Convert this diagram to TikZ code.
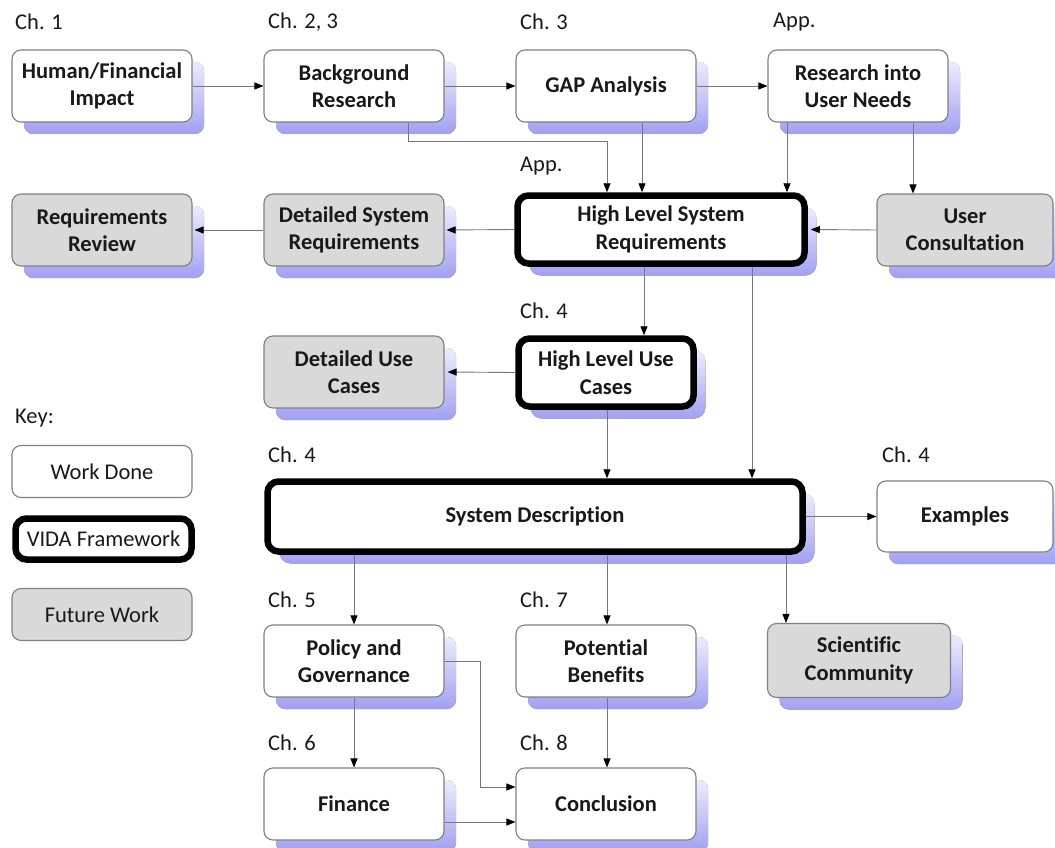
\documentclass[tikz,border=0pt]{standalone}
\usepackage{fontspec}
\setmainfont{Carlito}[Ligatures=NoCommon]
\usetikzlibrary{arrows.meta,shadows}
\definecolor{boxgray}{RGB}{128,128,128}
\definecolor{futgray}{RGB}{217,217,217}
\definecolor{lav}{RGB}{160,160,242}
\definecolor{txt}{RGB}{25,25,25}
\definecolor{conngray}{RGB}{120,120,120}
\newcommand{\fs}{\fontsize{22.5}{27.5}\selectfont}
\tikzset{
  box/.style={draw=boxgray, line width=1.1pt, rounded corners=9pt, fill=white,
    minimum width=180pt, minimum height=72pt, inner sep=2pt, align=center,
    font=\bfseries\fs, text=txt},
  shad/.style={drop shadow={shadow xshift=12pt, shadow yshift=-12pt, opacity=1,
    top color=lav!20, bottom color=lav, draw=none}},
  vida/.style={draw=black, line width=6.5pt, rounded corners=11pt},
  future/.style={fill=futgray},
  keybox/.style={draw=boxgray, line width=1.1pt, rounded corners=9pt, fill=white,
    minimum width=180pt, minimum height=52pt, inner sep=2pt, align=center,
    font=\fs, text=txt},
  lab/.style={anchor=west, font=\fs, text=txt, inner sep=0pt},
  conn/.style={draw=conngray, line width=0.9pt, -{Triangle[length=9pt,width=7pt,color=black]}},
}
\begin{document}
\begin{tikzpicture}[x=1pt,y=-1pt]
\useasboundingbox (0,0) rectangle (1055,848);
% labels
\node[lab] (l1) at (15,22) {Ch. 1};
\node[lab] (l2) at (268,22) {Ch. 2, 3};
\node[lab] (l3) at (520,22) {Ch. 3};
\node[lab] (l4) at (773,22) {App.};
\node[lab] (l5) at (520,166) {App.};
\node[lab] (l6) at (520,311) {Ch. 4};
\node[lab] (lkey) at (15,418) {Key:};
\node[lab] (l7) at (268,455) {Ch. 4};
\node[lab] (l8) at (882,455) {Ch. 4};
\node[lab] (l9) at (268,600) {Ch. 5};
\node[lab] (l10) at (520,600) {Ch. 7};
\node[lab] (l11) at (268,743) {Ch. 6};
\node[lab] (l12) at (520,743) {Ch. 8};
% row 1
\node[box,shad] (hfi) at (102,86) {Human/Financial\\Impact};
\node[box,shad] (bgr) at (354,86) {Background\\Research};
\node[box,shad] (gap) at (606,86) {GAP Analysis};
\node[box,shad] (run) at (858,86) {Research into\\User Needs};
% row 2
\node[box,shad,future] (rr) at (102,230) {Requirements\\Review};
\node[box,shad,future] (dsr) at (354,230) {Detailed System\\Requirements};
\node[box,shad,vida,minimum width=287pt,minimum height=68pt] (hlsr) at (661,229.5) {High Level System\\Requirements};
\node[box,shad,future,minimum width=176pt] (uc) at (965,230) {User\\Consultation};
% row 3
\node[box,shad,future] (duc) at (354,372) {Detailed Use\\Cases};
\node[box,shad,vida,minimum width=175pt,minimum height=68pt] (hluc) at (606,372.5) {High Level Use\\Cases};
% key
\node[keybox] (kwd) at (102,471.5) {Work Done};
\node[keybox,vida,minimum width=176pt,minimum height=41pt] (kvida) at (103.5,539) {VIDA Framework};
\node[keybox,future] (kfw) at (102,614.5) {Future Work};
% row 4
\node[box,shad,vida,minimum width=535pt,minimum height=70pt] (sd) at (535,516.5) {System Description};
\node[box,shad,minimum width=176pt,minimum height=71pt] (ex) at (965,516.5) {Examples};
% row 5
\node[box,shad] (pg) at (354,661) {Policy and\\Governance};
\node[box,shad] (pb) at (606,661) {Potential\\Benefits};
\node[box,shad,future,minimum width=183pt,minimum height=74pt] (sc) at (859,660.5) {Scientific\\Community};
% row 6
\node[box,shad] (fin) at (354,804) {Finance};
\node[box,shad] (con) at (606,804) {Conclusion};
% connectors
\draw[conn] (hfi.east) -- (bgr.west);
\draw[conn] (bgr.east) -- (gap.west);
\draw[conn] (gap.east) -- (run.west);
\draw[conn] (bgr.south -| 408,0) |- (607,141) -- (607,0 |- hlsr.north);
\draw[conn] (gap.south -| 642,0) -- (642,0 |- hlsr.north);
\draw[conn] (run.south -| 787,0) -- (787,0 |- hlsr.north);
\draw[conn] (run.south -| 913,0) -- (913,0 |- uc.north);
\draw[conn] (uc.west) -- ([xshift=3pt]hlsr.east);
\draw[conn] (hlsr.west) -- ([xshift=2pt]dsr.east);
\draw[conn] (dsr.west) -- ([xshift=2pt]rr.east);
\draw[conn] (hlsr.south -| 644,0) -- (644,0 |- hluc.north);
\draw[conn] (hlsr.south -| 752,0) -- (752,0 |- sd.north);
\draw[conn] (hluc.west) -- ([xshift=3pt]duc.east);
\draw[conn] (hluc.south -| 607,0) -- (607,0 |- sd.north);
\draw[conn] (sd.east) -- (ex.west);
\draw[conn] (sd.south -| 786,0) -- (786,0 |- sc.north);
\draw[conn] (sd.south -| 354,0) -- (pg.north);
\draw[conn] (sd.south -| 607,0) -- (607,0 |- pb.north);
\draw[conn] (pg.south) -- (fin.north);
\draw[conn] (pb.south -| 607,0) -- (607,0 |- con.north);
\draw[conn] (pg.east) -| (480,787) -- (con.west |- 0,787);
\draw[conn] (fin.east |- 0,822) -- (con.west |- 0,822);
\end{tikzpicture}
\end{document}
